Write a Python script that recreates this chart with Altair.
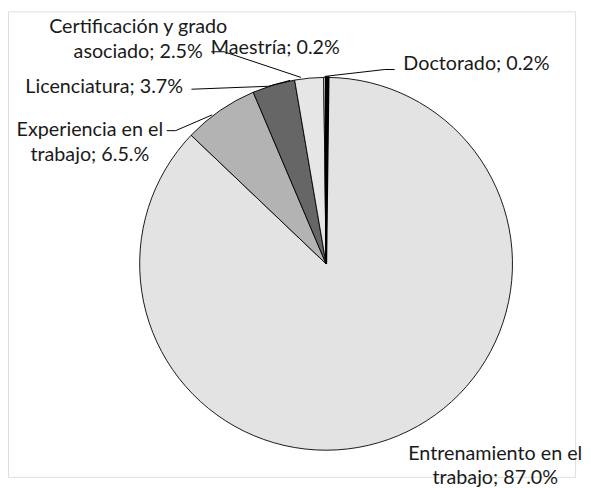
import altair as alt
import pandas as pd

# --- data ---
categories = ["Doctorado", "Entrenamiento en el trabajo", "Experiencia en el trabajo",
              "Licenciatura", "Certificación y grado asociado", "Maestría"]
values = [0.2, 87.0, 6.5, 3.7, 2.5, 0.2]
label_lines = [
    ["Doctorado; 0.2%"],
    ["Entrenamiento en el", "trabajo; 87.0%"],
    ["Experiencia en el", "trabajo; 6.5.%"],
    ["Licenciatura; 3.7%"],
    ["Certificación y grado", "asociado; 2.5%"],
    ["Maestría; 0.2%"],
]

# --- styles / layout (page pixel coordinates) ---
colors = ["#000000", "#e3e3e3", "#b3b3b3", "#666666", "#e6e6e6", "#ececec"]
OFF_X, OFF_Y = 6, 8
CX, CY, R = 328.5, 264, 189
label_x = [481, 500, 89, 103.5, 138, 277]
label_baselines = [[68], [463, 487], [134, 160], [91], [30, 55], [51]]
leaders = [
    [(398, 67), (388, 67), (327, 74)],
    [],
    [(167, 129), (176, 129), (213, 113)],
    [(192, 87), (270, 84), (292, 78)],
    [(212, 49), (225, 49), (303, 75)],
    [],
]

pie_df = pd.DataFrame({"cat": categories, "val": values, "idx": list(range(len(values)))})

text_rows = []
for cx, bys, lines in zip(label_x, label_baselines, label_lines):
    for t, by in zip(lines, bys):
        text_rows.append({"t": t, "x": cx - OFF_X, "y": by - OFF_Y})
text_df = pd.DataFrame(text_rows)

line_rows = []
for cat, pts in zip(categories, leaders):
    for j, (px, py) in enumerate(pts):
        line_rows.append({"cat": cat, "o": j, "x": px - OFF_X, "y": py - OFF_Y})
line_df = pd.DataFrame(line_rows)

base = alt.Chart(pie_df).encode(
    theta=alt.Theta("val:Q", stack=True),
    order=alt.Order("idx:Q"),
    x=alt.value(CX - OFF_X),
    y=alt.value(CY - OFF_Y),
)

pie = base.mark_arc(radius=R, stroke="black", strokeWidth=0.9).encode(
    color=alt.Color("cat:N", scale=alt.Scale(domain=categories, range=colors), legend=None),
)

# thin black slice drawn again on top so its outline is not covered by neighbours
doct = base.mark_arc(radius=R, stroke="black", fill="black", strokeWidth=2.2).encode(
    opacity=alt.condition(alt.datum.cat == "Doctorado", alt.value(1), alt.value(0)),
)

leader = alt.Chart(line_df).mark_line(color="black", strokeWidth=1).encode(
    x=alt.X("x:Q", scale=None, axis=None),
    y=alt.Y("y:Q", scale=None, axis=None),
    detail="cat:N",
    order="o:Q",
)

text = alt.Chart(text_df).mark_text(
    font="Lato", fontSize=20, color="#1a1a1a", align="center", baseline="alphabetic"
).encode(
    x=alt.X("x:Q", scale=None, axis=None),
    y=alt.Y("y:Q", scale=None, axis=None),
    text="t:N",
)

chart = alt.layer(pie, doct, leader, text).properties(
    width=575, height=472, padding=0
).configure_view(stroke=None).configure(background="white")

chart.save("out.html", embed_options={"renderer": "svg", "actions": False})
